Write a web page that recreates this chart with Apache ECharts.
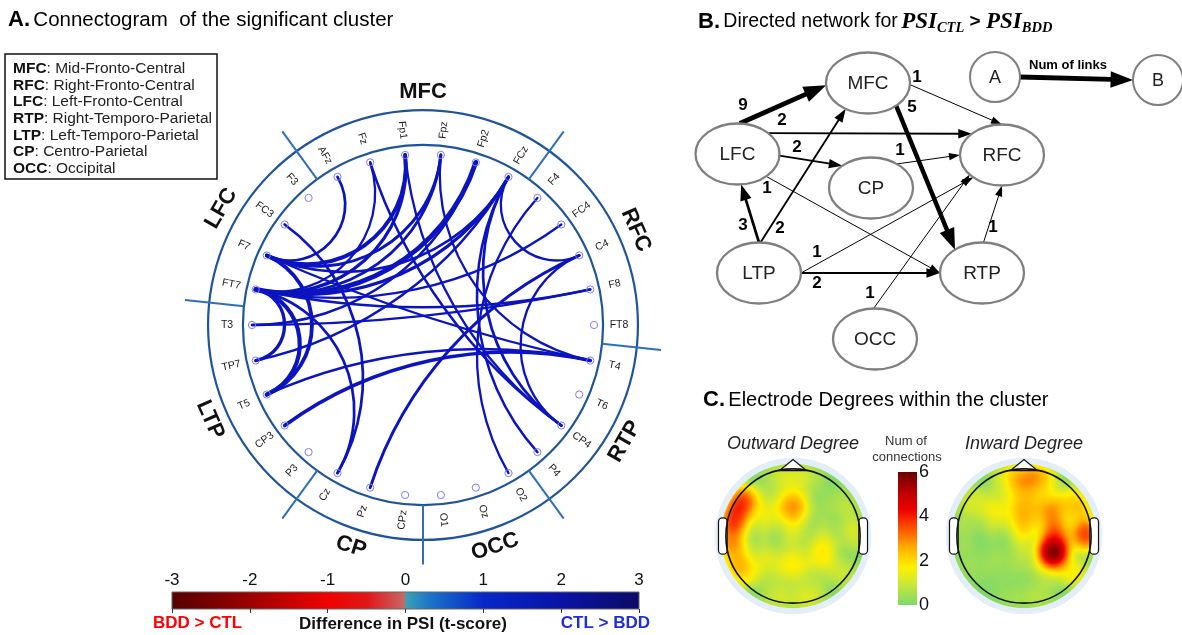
<!DOCTYPE html>
<html><head><meta charset="utf-8">
<script src="https://cdn.jsdelivr.net/npm/echarts@6/dist/echarts.min.js"></script>
<style>html,body{margin:0;padding:0;background:#fff}#c{width:1182px;height:635px}</style>
</head><body><div id="c"></div>
<script>
// ================= DATA =================
// Panel A: electrodes in clockwise order around the connectogram (starting at the 3 o'clock position)
const electrodes = ['FT8','T4','T6','CP4','P4','O2','Oz','O1','CPz','Pz','Cz','P3','CP3','T5','TP7','T3','FT7','F7','FC3','F3','AFz','Fz','Fp1','Fpz','Fp2','FCz','F4','FC4','C4','F8'];
const regionNames = ['RFC','RTP','OCC','CP','LTP','LFC','MFC'];
const regionElectrodes = [
  ['F4','FC4','C4','F8','FT8'],
  ['T4','T6','CP4','P4'],
  ['O2','Oz','O1'],
  ['CPz','Pz','Cz'],
  ['P3','CP3','T5','TP7','T3'],
  ['FT7','F7','FC3','F3'],
  ['AFz','Fz','Fp1','Fpz','Fp2','FCz']
];
const legendAbbr = ['MFC','RFC','LFC','RTP','LTP','CP','OCC'];
const legendDesc = ['Mid-Fronto-Central','Right-Fronto-Central','Left-Fronto-Central','Right-Temporo-Parietal','Left-Temporo-Parietal','Centro-Parietal','Occipital'];
// significant links: [source, target, t-score]
const links = [
  ['F7','AFz',2.0],['F7','Fp1',2.5],['F7','Fpz',2.1],['F7','FCz',2.0],
  ['FT7','Fp1',2.2],['FT7','Fpz',2.0],['FT7','Fp2',3.0],['FT7','FCz',2.2],['FT7','Fz',1.8],
  ['FT7','FC4',1.8],['FT7','F8',1.9],
  ['FC3','Cz',2.0],['FT7','Cz',2.0],
  ['F7','T4',1.8],
  ['FCz','C4',1.8],
  ['Fz','CP4',1.9],['Fp1','CP4',1.8],['FCz','CP4',2.0],['FCz','P4',1.9],['Fpz','T4',1.8],
  ['Pz','C4',2.1],
  ['TP7','FT7',2.3],['T5','FT7',2.7],['T5','F7',2.5],
  ['T3','Fp2',1.9],['TP7','FCz',1.9],
  ['T3','F8',1.8],
  ['T5','T4',1.9],['CP3','T4',2.4],
  ['O2','F4',1.8],
  ['CP4','C4',1.8]
];
const psiTicks = [-3,-2,-1,0,1,2,3];

// Panel B: directed network between regions [source, target, number of links]
const netNodes = ['MFC','LFC','RFC','CP','LTP','RTP','OCC'];
const netEdges = [
  ['LFC','MFC',9],['LFC','RFC',2],['LFC','CP',2],['LFC','RTP',1],
  ['MFC','RFC',1],['MFC','RTP',5],['CP','RFC',1],
  ['LTP','LFC',3],['LTP','MFC',2],['LTP','RFC',1],['LTP','RTP',2],
  ['OCC','RFC',1],['RTP','RFC',1]
];

// Panel C: electrode degrees
const topoElectrodes = ['Fp1','Fpz','Fp2','AFz','F7','F3','Fz','F4','F8','FT7','FC3','FCz','FC4','FT8','T3','Cz','C4','T4','TP7','CP3','CPz','CP4','T5','P3','Pz','P4','T6','O1','Oz','O2'];
const outDegree = [0.7,0.9,0.7,0.5,3.6,0.9,2.6,0.3,0.6,3.6,1.2,1.1,0.3,0.6,2.6,0.6,0.6,1.0,2.1,0.9,0.6,1.6,2.1,0.9,1.6,0.7,1.0,0.9,0.7,1.1];
const inDegree  = [1.3,2.0,2.2,1.6,1.1,1.2,1.6,2.2,2.0,0.5,1.0,1.9,2.1,1.7,0.3,1.0,2.8,3.6,0.3,0.3,0.5,6.0,0.3,0.3,0.4,1.1,1.7,0.3,0.4,0.6];
const degreeTicks = [0,2,4,6];

// ================= LAYOUT / STYLE =================
const FONT = "'Liberation Sans', Arial, sans-serif";
const SERIF = "'Liberation Serif','DejaVu Serif',serif";
const LINK_COLOR = '#0b14bf';
const R_INNER = 1.053, R_OUTER = 1.257, R_ELABEL = 1.146, R_DIV = 1.40, R_REGION = 1.363;
const stepDeg = 360 / electrodes.length;
const montage = {
  Fp1:[-0.28,0.875], Fpz:[0,0.92], Fp2:[0.28,0.875], AFz:[0,0.69],
  F7:[-0.745,0.54], F3:[-0.37,0.47], Fz:[0,0.46], F4:[0.37,0.47], F8:[0.745,0.54],
  FT7:[-0.875,0.28], FC3:[-0.44,0.235], FCz:[0,0.23], FC4:[0.44,0.235], FT8:[0.875,0.28],
  T3:[-0.92,0], Cz:[0,0], C4:[0.46,0], T4:[0.92,0],
  TP7:[-0.875,-0.28], CP3:[-0.44,-0.235], CPz:[0,-0.23], CP4:[0.44,-0.235],
  T5:[-0.745,-0.54], P3:[-0.37,-0.47], Pz:[0,-0.46], P4:[0.37,-0.47], T6:[0.745,-0.54],
  O1:[-0.28,-0.875], Oz:[0,-0.92], O2:[0.28,-0.875]
};
// network layout (grid units)
const netPos = {MFC:[178,53], LFC:[47.5,124], RFC:[312,125], CP:[181,158], LTP:[69,243], RTP:[292,243], OCC:[185,309]};
const netR = [42, 30.5];
// anchor angles on the ellipses [source angle, target angle] and label positions
const edgeAnchor = [[-87,176],[-43,-136],[3,-133],[47,180],[3,-90],[48,-130],[-52,180],[-90,85],[-88,122],[0,133],[0,180],[-92,140],[-88,90]];
const edgeLabelPos = [[53,75],[92,90],[107,117],[77,158],[227,47],[222,77],[210,120],[53,195],[90,198],[127,222],[127,253],[180,263],[303,197]];
const legendNodePos = {A:[305,47], B:[468,50]};

const topoColors = ['#7ed96b','#c3e63c','#fff000','#ffb000','#ff5500','#f00000','#b80000','#6a0000'];
const topoBase = '#8ada63';
const psiStops = [
  [0,'#560000'],[0.167,'#9c0000'],[0.333,'#f00000'],[0.42,'#e01818'],[0.499,'#c86868'],
  [0.5,'#3aa2b6'],[0.56,'#1a6ec8'],[0.667,'#0628c8'],[0.833,'#0a12a6'],[1,'#0b0b66']
];

// ================= HELPERS =================
function idx(name){ return electrodes.indexOf(name); }
function circPt(r, aDeg){ const a = aDeg*Math.PI/180; return [r*Math.cos(a), -r*Math.sin(a)]; }

// head disc map for the topographic plots
(function(){
  const ring = [];
  for (let i = 0; i <= 90; i++) { const a = i/90*2*Math.PI; ring.push([1.08*Math.cos(a), 1.08*Math.sin(a)]); }
  echarts.registerMap('headDisc', {type:'FeatureCollection', features:[{type:'Feature', properties:{name:'head'}, geometry:{type:'Polygon', coordinates:[ring]}}]});
})();

const chart = echarts.init(document.getElementById('c'), null, {renderer:'canvas'});

// ================= SERIES =================
const series = [];

// rings
series.push({type:'custom', coordinateSystem:'cartesian2d', xAxisIndex:0, yAxisIndex:0, silent:true, z:1,
  data:[[0,0]],
  renderItem(params, api){
    const c = api.coord([0,0]); const u = api.coord([1,0])[0]-c[0];
    return {type:'group', children:[
      {type:'circle', shape:{cx:c[0], cy:c[1], r:R_INNER*u}, style:{fill:'none', stroke:'#1f5598', lineWidth:2.2}},
      {type:'circle', shape:{cx:c[0], cy:c[1], r:R_OUTER*u}, style:{fill:'none', stroke:'#1f5598', lineWidth:2.2}}
    ]};
  }});

// region dividers and region labels
series.push({type:'custom', coordinateSystem:'cartesian2d', xAxisIndex:0, yAxisIndex:0, silent:true, z:1,
  data: regionNames.map((r,i)=>[idx(regionElectrodes[i][0]), regionElectrodes[i].length]),
  renderItem(params, api){
    const first = api.value(0), count = api.value(1);
    const aB = (first-0.5)*stepDeg;
    const p0 = api.coord(circPt(R_INNER, aB)), p1 = api.coord(circPt(R_DIV, aB));
    let mid = (first + (count-1)/2)*stepDeg; mid = ((mid%360)+360)%360;
    const lp = api.coord(circPt(R_REGION, mid));
    const rotCw = (mid > 180) ? mid - 270 : mid - 90;
    return {type:'group', children:[
      {type:'line', shape:{x1:p0[0],y1:p0[1],x2:p1[0],y2:p1[1]}, style:{stroke:'#2e6fb7', lineWidth:2}},
      {type:'text', x:lp[0], y:lp[1], rotation:-rotCw*Math.PI/180,
        style:{text:regionNames[params.dataIndex], fontSize:22, fontWeight:'bold', fill:'#111', align:'center', verticalAlign:'middle', fontFamily:FONT}}
    ]};
  }});

// links (arcs orthogonal to the circle)
series.push({type:'custom', coordinateSystem:'cartesian2d', xAxisIndex:0, yAxisIndex:0, silent:true, z:2,
  data: links.map(l=>[idx(l[0]), idx(l[1]), l[2]]),
  renderItem(params, api){
    const a1 = api.value(0)*stepDeg*Math.PI/180, a2 = api.value(1)*stepDeg*Math.PI/180, t = api.value(2);
    let th = Math.abs(a2-a1); if (th > Math.PI) th = 2*Math.PI - th;
    const k = 4/3*Math.tan((Math.PI-th)/4)*Math.tan(th/2);
    const f = 1 - k;
    const p1 = [Math.cos(a1), -Math.sin(a1)], p2 = [Math.cos(a2), -Math.sin(a2)];
    const P1 = api.coord(p1), P2 = api.coord(p2);
    const C1 = api.coord([p1[0]*f, p1[1]*f]), C2 = api.coord([p2[0]*f, p2[1]*f]);
    const w = 2.1 + (t-1.7)*2.1;
    return {type:'bezierCurve', shape:{x1:P1[0],y1:P1[1],x2:P2[0],y2:P2[1],cpx1:C1[0],cpy1:C1[1],cpx2:C2[0],cpy2:C2[1]},
      style:{fill:'none', stroke:LINK_COLOR, lineWidth:w, lineCap:'round'}};
  }});

// nodes + electrode labels
series.push({type:'custom', coordinateSystem:'cartesian2d', xAxisIndex:0, yAxisIndex:0, silent:true, z:3,
  data: electrodes.map((e,i)=>[i,0]),
  renderItem(params, api){
    const i = api.value(0); const a = i*stepDeg;
    const P = api.coord(circPt(1, a)), L = api.coord(circPt(R_ELABEL, a));
    const rotCw = Math.cos(a*Math.PI/180) >= 0 ? a : a - 180;
    return {type:'group', children:[
      {type:'circle', shape:{cx:P[0], cy:P[1], r:3.6}, style:{fill:'none', stroke:'#7b7bff', lineWidth:1}},
      {type:'text', x:L[0], y:L[1], rotation:-rotCw*Math.PI/180,
        style:{text:electrodes[i], fontSize:10.5, fill:'#1a1a1a', align:'center', verticalAlign:'middle', fontFamily:FONT}}
    ]};
  }});

// PSI colour bar
series.push({type:'custom', coordinateSystem:'cartesian2d', xAxisIndex:1, yAxisIndex:1, silent:true, z:2,
  data:[[psiTicks[0], psiTicks[psiTicks.length-1]]],
  renderItem(params, api){
    const p0 = api.coord([api.value(0),1]), p1 = api.coord([api.value(1),0]);
    return {type:'rect', shape:{x:p0[0], y:p0[1], width:p1[0]-p0[0], height:p1[1]-p0[1]},
      style:{fill:new echarts.graphic.LinearGradient(0,0,1,0, psiStops.map(s=>({offset:s[0], color:s[1]}))), stroke:'#666', lineWidth:1}};
  }});

// Panel B edges
function edgeWidth(n){ return Math.min(1 + 0.85*(n-1), 4.8); }
function arrowGroup(api, c1, c2, sa, ta, n, labelPos, labelText){
  const ep = (c, a) => { const r = a*Math.PI/180; return api.coord([c[0]+netR[0]*Math.cos(r), c[1]+netR[1]*Math.sin(r)]); };
  const S = ep(c1, sa), T = ep(c2, ta);
  const w = edgeWidth(n);
  const dx = T[0]-S[0], dy = T[1]-S[1], len = Math.sqrt(dx*dx+dy*dy);
  const ux = dx/len, uy = dy/len, nx = -uy, ny = ux;
  const AL = 8 + 3*w, AW = 2.5 + 1.2*w;
  const B = [T[0]-ux*AL, T[1]-uy*AL];
  const children = [
    {type:'line', shape:{x1:S[0], y1:S[1], x2:B[0]+ux*1, y2:B[1]+uy*1}, style:{stroke:'#000', lineWidth:w}},
    {type:'polygon', shape:{points:[[T[0],T[1]],[B[0]+nx*AW, B[1]+ny*AW],[B[0]-nx*AW, B[1]-ny*AW]]}, style:{fill:'#000'}}
  ];
  if (labelText != null) {
    const L = api.coord(labelPos);
    children.push({type:'text', x:L[0], y:L[1], style:{text:labelText, fontSize:17, fontWeight:'bold', fill:'#000', align:'center', verticalAlign:'middle', fontFamily:FONT}});
  }
  return {type:'group', children};
}
series.push({type:'custom', coordinateSystem:'cartesian2d', xAxisIndex:2, yAxisIndex:2, silent:true, z:2,
  data: netEdges.map(e=>[netNodes.indexOf(e[0]), netNodes.indexOf(e[1]), e[2]]),
  renderItem(params, api){
    const i = params.dataIndex;
    const s = netNodes[api.value(0)], t = netNodes[api.value(1)], n = api.value(2);
    return arrowGroup(api, netPos[s], netPos[t], edgeAnchor[i][0], edgeAnchor[i][1], n, edgeLabelPos[i], String(n));
  }});

// Panel B nodes
series.push({type:'custom', coordinateSystem:'cartesian2d', xAxisIndex:2, yAxisIndex:2, silent:true, z:3,
  data: netNodes.map((n,i)=>[i,0]),
  renderItem(params, api){
    const name = netNodes[api.value(0)];
    const c = api.coord(netPos[name]); const sz = api.size(netR);
    return {type:'group', children:[
      {type:'ellipse', shape:{cx:c[0], cy:c[1], rx:sz[0], ry:sz[1]}, style:{fill:'#fff', stroke:'#7f7f7f', lineWidth:2.3}},
      {type:'text', x:c[0], y:c[1]+1, style:{text:name, fontSize:19, fill:'#222', align:'center', verticalAlign:'middle', fontFamily:FONT}}
    ]};
  }});

// Panel B legend (A --num of links--> B)
series.push({type:'custom', coordinateSystem:'cartesian2d', xAxisIndex:2, yAxisIndex:2, silent:true, z:3,
  data:[[0,0]],
  renderItem(params, api){
    const a = legendNodePos.A, b = legendNodePos.B;
    const ca = api.coord(a), cb = api.coord(b); const r = api.size([25,25])[0];
    const S = [ca[0]+r, ca[1]], T = [cb[0]-r, cb[1]];
    const w = 4.8, AL = 8+3*w, AW = 2.5+1.2*w;
    const dx=T[0]-S[0], dy=T[1]-S[1], len=Math.sqrt(dx*dx+dy*dy), ux=dx/len, uy=dy/len, nx=-uy, ny=ux;
    const B = [T[0]-ux*AL, T[1]-uy*AL];
    const mid = api.coord([378,35]);
    return {type:'group', children:[
      {type:'line', shape:{x1:S[0],y1:S[1],x2:B[0]+ux,y2:B[1]+uy}, style:{stroke:'#000', lineWidth:w}},
      {type:'polygon', shape:{points:[[T[0],T[1]],[B[0]+nx*AW,B[1]+ny*AW],[B[0]-nx*AW,B[1]-ny*AW]]}, style:{fill:'#000'}},
      {type:'circle', shape:{cx:ca[0], cy:ca[1], r:r}, style:{fill:'#fff', stroke:'#7f7f7f', lineWidth:2}},
      {type:'circle', shape:{cx:cb[0], cy:cb[1], r:r}, style:{fill:'#fff', stroke:'#7f7f7f', lineWidth:2}},
      {type:'text', x:ca[0], y:ca[1]+1, style:{text:'A', fontSize:18, fill:'#222', align:'center', verticalAlign:'middle', fontFamily:FONT}},
      {type:'text', x:cb[0], y:cb[1]+1, style:{text:'B', fontSize:18, fill:'#222', align:'center', verticalAlign:'middle', fontFamily:FONT}},
      {type:'text', x:mid[0], y:mid[1], style:{text:'Num of links', fontSize:13, fontWeight:'bold', fill:'#000', align:'center', verticalAlign:'middle', fontFamily:FONT}}
    ]};
  }});

// Panel C heatmaps
const hmOutIdx = series.length;
series.push({type:'heatmap', coordinateSystem:'geo', geoIndex:0, pointSize:15, blurSize:13, minOpacity:1, maxOpacity:1, z:2, silent:true,
  data: topoElectrodes.map((e,i)=>[montage[e][0], montage[e][1], outDegree[i]])});
const hmInIdx = series.length;
series.push({type:'heatmap', coordinateSystem:'geo', geoIndex:1, pointSize:15, blurSize:13, minOpacity:1, maxOpacity:1, z:2, silent:true,
  data: topoElectrodes.map((e,i)=>[montage[e][0], montage[e][1], inDegree[i]])});

function headDecor(g){
  return {type:'custom', coordinateSystem:'geo', geoIndex:g, silent:true, z:4, clip:false,
    data:[[0,0]],
    renderItem(params, api){
      const c = api.coord([0,0]); const u = api.coord([1,0])[0]-c[0];
      const P = (x,y)=>api.coord([x,y]);
      const ear = (x0)=>({type:'rect', shape:{x:c[0]+x0*u, y:c[1]-0.27*u, width:0.13*u, height:0.54*u, r:4}, style:{fill:'#fff', stroke:'#111', lineWidth:1.2}});
      return {type:'group', children:[
        {type:'ring', shape:{cx:c[0], cy:c[1], r:1.56*u, r0:1.16*u}, style:{fill:'#fff'}},
        {type:'ring', shape:{cx:c[0], cy:c[1], r:1.165*u, r0:1.075*u}, style:{fill:'#e4eefa'}},
        ear(-1.11), ear(0.98),
        {type:'polygon', shape:{points:[P(-0.2,0.975),P(0,1.14),P(0.2,0.975)]}, style:{fill:'#fff', stroke:'#111', lineWidth:1.3}},
        {type:'circle', shape:{cx:c[0], cy:c[1], r:u}, style:{fill:'none', stroke:'#111', lineWidth:1.6}}
      ]};
    }};
}
series.push(headDecor(0));
series.push(headDecor(1));

// ================= GRAPHIC (titles, legend box, annotations) =================
const g = [];
g.push({type:'text', x:8, y:20, z:100, style:{text:'{b|A.} {r|Connectogram  of the significant cluster}', verticalAlign:'middle', fontFamily:FONT,
  rich:{b:{fontSize:22, fontWeight:'bold', fontFamily:FONT}, r:{fontSize:20.5, fontFamily:FONT}}}});
g.push({type:'rect', z:100, shape:{x:5, y:54, width:212, height:125}, style:{fill:'#fff', stroke:'#111', lineWidth:1.5}});
legendAbbr.forEach((a,i)=>{
  g.push({type:'text', x:13, y:69 + i*16.6, z:101, style:{text:'{b|'+a+'}{r|: '+legendDesc[i]+'}', verticalAlign:'middle', fontFamily:FONT,
    rich:{b:{fontSize:15.5, fontWeight:'bold', fontFamily:FONT, fill:'#111'}, r:{fontSize:15.5, fontFamily:FONT, fill:'#222'}}}});
});
g.push({type:'text', x:153, y:623, z:100, style:{text:'BDD > CTL', fontSize:17, fontWeight:'bold', fill:'#ff0000', verticalAlign:'middle', fontFamily:FONT}});
g.push({type:'text', x:403, y:624, z:100, style:{text:'Difference in PSI (t-score)', fontSize:17, fontWeight:'bold', fill:'#111', align:'center', verticalAlign:'middle', fontFamily:FONT}});
g.push({type:'text', x:650, y:623, z:100, style:{text:'CTL > BDD', fontSize:17, fontWeight:'bold', fill:'#1f2fd8', align:'right', verticalAlign:'middle', fontFamily:FONT}});

g.push({type:'text', x:698, y:22, z:100, style:{text:'{b|B.} {r|Directed network for} {m|PSI}{s|CTL}{g| > }{m|PSI}{s|BDD}', verticalAlign:'middle', fontFamily:FONT,
  rich:{b:{fontSize:22, fontWeight:'bold', lineHeight:28, fontFamily:FONT}, r:{fontSize:19.5, lineHeight:28, fontFamily:FONT},
        m:{fontSize:23, fontWeight:'bold', fontStyle:'italic', lineHeight:28, fontFamily:SERIF},
        s:{fontSize:14.5, fontWeight:'bold', fontStyle:'italic', lineHeight:14, verticalAlign:'bottom', fontFamily:SERIF},
        g:{fontSize:19, fontWeight:'bold', lineHeight:28, fontFamily:FONT}}}});

g.push({type:'text', x:703, y:400, z:100, style:{text:'{b|C.} {r|Electrode Degrees within the cluster}', verticalAlign:'middle', fontFamily:FONT,
  rich:{b:{fontSize:22, fontWeight:'bold', fontFamily:FONT}, r:{fontSize:20, fontFamily:FONT}}}});
g.push({type:'text', x:793, y:444, z:100, style:{text:'Outward Degree', fontSize:18, fontStyle:'italic', fill:'#222', align:'center', verticalAlign:'middle', fontFamily:FONT}});
g.push({type:'text', x:1024, y:444, z:100, style:{text:'Inward Degree', fontSize:18, fontStyle:'italic', fill:'#222', align:'center', verticalAlign:'middle', fontFamily:FONT}});
g.push({type:'text', x:906, y:441, z:100, style:{text:'Num of', fontSize:13, fill:'#333', align:'center', verticalAlign:'middle', fontFamily:FONT}});
g.push({type:'text', x:907, y:457, z:100, style:{text:'connections', fontSize:13, fill:'#333', align:'center', verticalAlign:'middle', fontFamily:FONT}});
// degree colour bar
const cbX = 898, cbTop = 472, cbH = 133, cbW = 19;
const dMax = degreeTicks[degreeTicks.length-1];
g.push({type:'rect', z:100, shape:{x:cbX, y:cbTop, width:cbW, height:cbH},
  style:{fill:new echarts.graphic.LinearGradient(0,1,0,0, topoColors.map((c,i)=>({offset:i/(topoColors.length-1), color:c})))}});
degreeTicks.forEach(v=>{
  g.push({type:'text', z:100, x:cbX+cbW+2, y:cbTop + cbH*(1 - v/dMax), style:{text:String(v), fontSize:18, fill:'#111', verticalAlign:'middle', fontFamily:FONT}});
});

const option = {
  animation:false,
  textStyle:{fontFamily:FONT},
  grid:[
    {left:166.5, top:68.5, width:513, height:513, show:false},
    {left:172, top:592, width:467, height:17, show:false},
    {left:690, top:30, width:492, height:345, show:false}
  ],
  xAxis:[
    {gridIndex:0, type:'value', min:-1.5, max:1.5, show:false},
    {gridIndex:1, type:'value', min:psiTicks[0], max:psiTicks[psiTicks.length-1], interval:psiTicks[1]-psiTicks[0], position:'top', z:5,
      axisLine:{show:false}, axisTick:{show:true, inside:true, length:4, lineStyle:{color:'#333', width:1}},
      axisLabel:{fontSize:17, color:'#111', margin:3, fontFamily:FONT}, splitLine:{show:false}},
    {gridIndex:2, type:'value', min:0, max:492, show:false}
  ],
  yAxis:[
    {gridIndex:0, type:'value', min:-1.5, max:1.5, show:false},
    {gridIndex:1, type:'value', min:0, max:1, show:false},
    {gridIndex:2, type:'value', min:0, max:345, inverse:true, show:false}
  ],
  geo:[
    {map:'headDisc', roam:false, silent:true, aspectScale:1, layoutCenter:[793,536], layoutSize:145, z:0,
      itemStyle:{areaColor:topoBase, borderWidth:0, borderColor:topoBase}, emphasis:{disabled:true}, select:{disabled:true}, label:{show:false}},
    {map:'headDisc', roam:false, silent:true, aspectScale:1, layoutCenter:[1024,536], layoutSize:145, z:0,
      itemStyle:{areaColor:topoBase, borderWidth:0, borderColor:topoBase}, emphasis:{disabled:true}, select:{disabled:true}, label:{show:false}}
  ],
  visualMap:{type:'continuous', show:false, min:degreeTicks[0], max:dMax, seriesIndex:[hmOutIdx, hmInIdx], inRange:{color:topoColors}},
  graphic:{elements:g},
  series
};
chart.setOption(option);
</script>
</body></html>
